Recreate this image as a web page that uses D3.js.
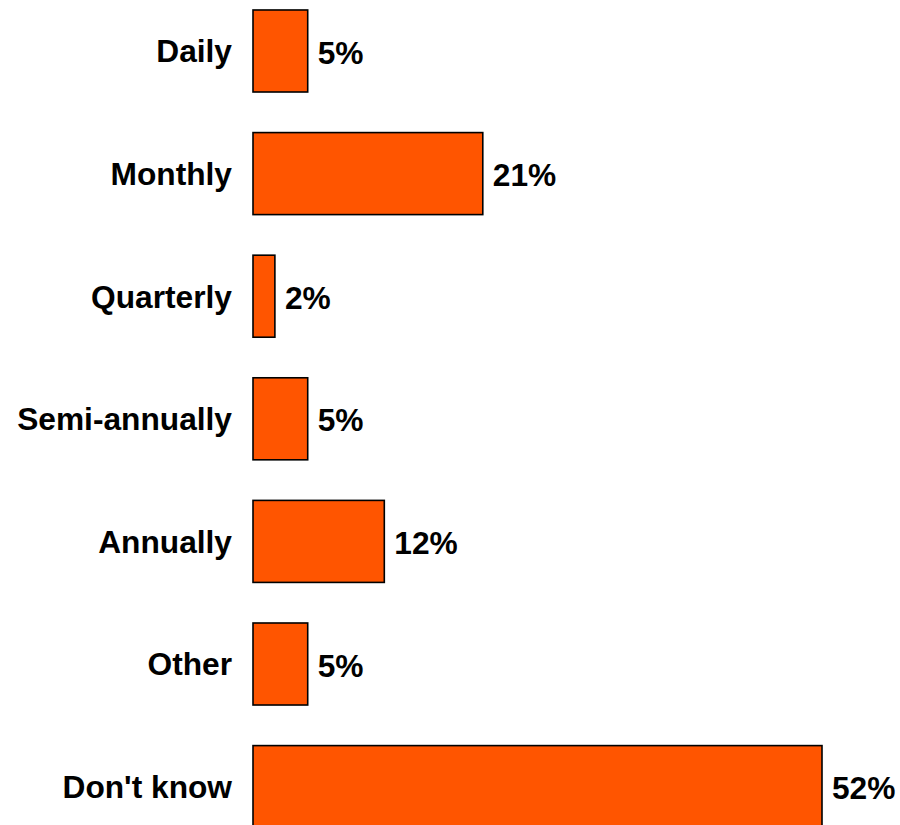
<!DOCTYPE html>
<html>
<head>
<meta charset="utf-8">
<script src="https://cdn.jsdelivr.net/npm/d3@7"></script>
<style>
  html, body { margin: 0; padding: 0; background: #ffffff; }
  svg { display: block; }
  text { font-family: "Liberation Sans", Arial, sans-serif; font-weight: bold; fill: #000; }
</style>
</head>
<body>
<svg id="chart" width="900" height="825"></svg>
<script>
// Survey answers: how often the item is done
const categories = ["Daily", "Monthly", "Quarterly", "Semi-annually", "Annually", "Other", "Don't know"];
const percents = [5, 21, 2, 5, 12, 5, 52];
const valueLabels = ["5%", "21%", "2%", "5%", "12%", "5%", "52%"];

const data = categories.map((c, i) => ({ category: c, value: percents[i], label: valueLabels[i] }));

const svg = d3.select("#chart");
const barLeft = 253;

const x = d3.scaleLinear()
  .domain([0, 52])
  .range([barLeft, 822]);

const y = d3.scaleBand()
  .domain(categories)
  .range([-30.6, 868.2])
  .paddingInner(0.331)
  .paddingOuter(0.331);

// bars
svg.append("g")
  .selectAll("rect")
  .data(data)
  .join("rect")
  .attr("x", x(0))
  .attr("y", d => y(d.category))
  .attr("width", d => x(d.value) - x(0))
  .attr("height", y.bandwidth())
  .attr("fill", "#FF5500")
  .attr("stroke", "#000")
  .attr("stroke-width", 1.6);

// category labels
svg.append("g")
  .selectAll("text")
  .data(data)
  .join("text")
  .attr("x", barLeft - 21)
  .attr("y", d => y(d.category) + y.bandwidth() / 2)
  .attr("dy", "0.36em")
  .attr("text-anchor", "end")
  .style("font-size", "31.7px")
  .text(d => d.category);

// value labels
svg.append("g")
  .selectAll("text")
  .data(data)
  .join("text")
  .attr("x", d => x(d.value) + 10)
  .attr("y", d => y(d.category) + y.bandwidth() / 2)
  .attr("dy", "0.4em")
  .attr("text-anchor", "start")
  .style("font-size", "31.7px")
  .text(d => d.label);
</script>
</body>
</html>
